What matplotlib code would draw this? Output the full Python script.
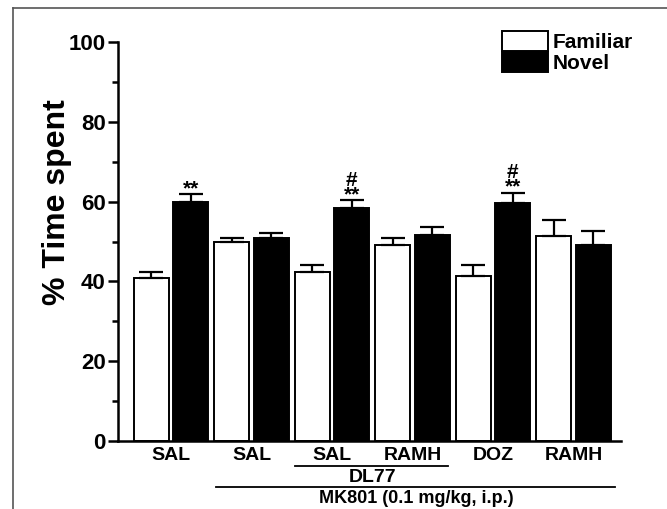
import matplotlib
matplotlib.use("Agg")
import matplotlib.pyplot as plt
import numpy as np
from matplotlib.patches import Patch
from matplotlib.lines import Line2D
from matplotlib.ticker import MultipleLocator

plt.rcParams['font.family'] = ['Liberation Sans', 'DejaVu Sans']
plt.rcParams['font.weight'] = 'bold'

groups = ['SAL', 'SAL', 'SAL', 'RAMH', 'DOZ', 'RAMH']
familiar = [40.9, 50.0, 42.3, 49.0, 41.3, 51.5]
familiar_err = [1.5, 1.0, 1.75, 1.9, 2.75, 3.9]
novel = [60.0, 51.0, 58.5, 51.7, 59.6, 49.0]
novel_err = [1.85, 1.1, 1.8, 1.9, 2.65, 3.75]
novel_marks = ['**', '', '#\n**', '', '#\n**', '']
series_names = ['Familiar', 'Novel']
y_label = '% Time spent'
sub_label = 'DL77'
main_label = 'MK801 (0.1 mg/kg, i.p.)'

W, H = 667, 509
fig = plt.figure(figsize=(W / 100, H / 100), dpi=100)
ax = fig.add_axes([118 / W, (H - 441) / H, 503 / W, 399 / H])

x = np.arange(len(groups))
bw = 0.435
off = bw / 2 + 0.027
err_kw = dict(ecolor='black', elinewidth=1.6, capsize=8.5, capthick=1.6)

ax.bar(x - off, familiar, bw, color='white', edgecolor='black', linewidth=1.4,
       yerr=[np.zeros(len(x)), familiar_err], error_kw=err_kw, zorder=2)
ax.bar(x + off, novel, bw, color='black', edgecolor='black', linewidth=1.4,
       yerr=[np.zeros(len(x)), novel_err], error_kw=err_kw, zorder=2)

for i in range(len(x)):
    if novel_marks[i]:
        top = novel[i] + novel_err[i]
        ax.annotate(novel_marks[i], (x[i] + off, top), xytext=(0, -3),
                    textcoords='offset points', ha='center', va='bottom',
                    fontsize=15, fontweight='bold', linespacing=0.72)

ax.set_xlim(-0.66, 5.59)
ax.set_ylim(0, 100)
ax.yaxis.set_major_locator(MultipleLocator(20))
ax.yaxis.set_minor_locator(MultipleLocator(10))
ax.tick_params(axis='y', which='major', length=7, width=1.8, labelsize=16, pad=2)
ax.tick_params(axis='y', which='minor', length=4, width=1.8)
for lab in ax.get_yticklabels():
    lab.set_fontweight('bold')
ax.set_xticks(x)
ax.set_xticklabels(groups, fontsize=14, fontweight='bold')
ax.tick_params(axis='x', length=0, pad=4)
for s in ['top', 'right']:
    ax.spines[s].set_visible(False)
ax.spines['left'].set_linewidth(1.8)
ax.spines['bottom'].set_linewidth(1.8)

fig.text(57 / W, 1 - 202 / H, y_label, rotation=90, ha='center', va='center',
         fontsize=23, fontweight='bold')

# group lines
trans = ax.get_xaxis_transform()
ax.add_line(Line2D([2 - off - bw / 2, 3 + off + bw / 2 - 0.02], [-0.062, -0.062],
                   transform=trans, color='black', lw=1.3, clip_on=False))
ax.text(2.5, -0.092, sub_label, transform=trans, ha='center', va='center',
        fontsize=14, fontweight='bold')
ax.add_line(Line2D([1 - off - bw / 2 + 0.02, 5.51], [-0.116, -0.116],
                   transform=trans, color='black', lw=1.3, clip_on=False))
ax.text(3.05, -0.145, main_label, transform=trans, ha='center', va='center',
        fontsize=13, fontweight='bold')

handles = [Patch(facecolor='white', edgecolor='black', linewidth=1.4),
           Patch(facecolor='black', edgecolor='black', linewidth=1.4)]
fig.legend(handles, series_names, loc='upper left', bbox_to_anchor=(502 / W, 1 - 31 / H),
           frameon=False, handlelength=2.2, handleheight=1.1,
           labelspacing=0.0, handletextpad=0.25, borderpad=0, borderaxespad=0,
           prop={'weight': 'bold', 'size': 15})

# figure border (left and top visible)
fig.add_artist(Line2D([13 / W, 13 / W], [0, 1 - 8 / H], transform=fig.transFigure,
                      color='#555555', lw=1.2))
fig.add_artist(Line2D([13 / W, 1], [1 - 8 / H, 1 - 8 / H], transform=fig.transFigure,
                      color='#555555', lw=1.2))

fig.savefig('out.png', dpi=100, facecolor='white')
